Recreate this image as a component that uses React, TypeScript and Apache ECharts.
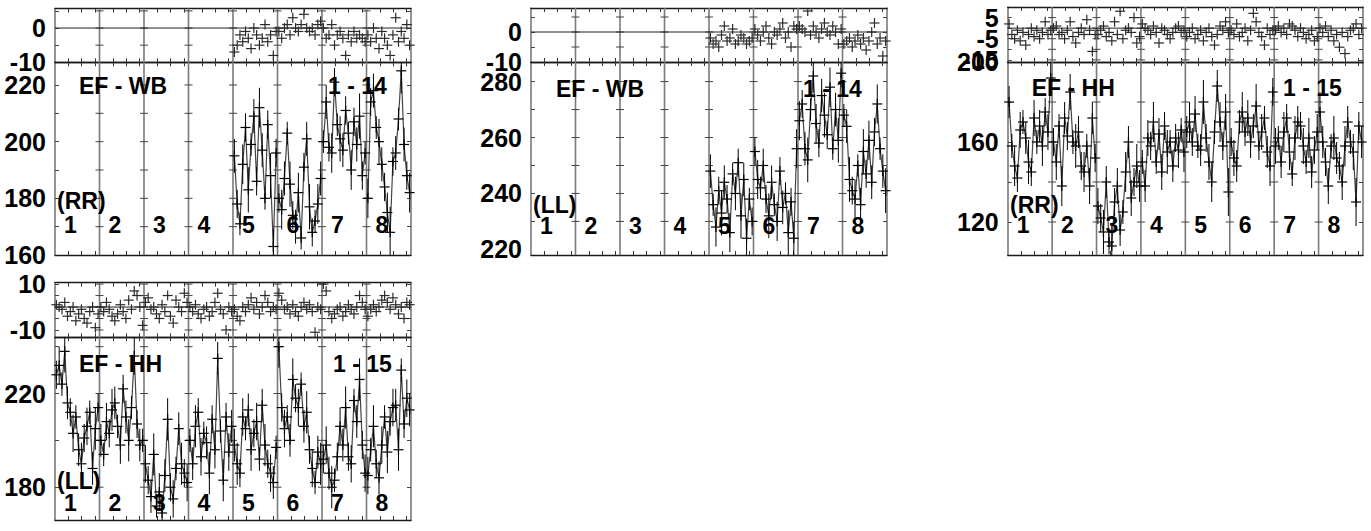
import { useEffect, useRef } from "react";
import * as echarts from "echarts";

// ---------------- data ----------------
const segmentLabels = ["1", "2", "3", "4", "5", "6", "7", "8"];
const segmentTickFractions = [0.3, 0.6, 0.9];

// EF - WB (RR), runs 1 - 14
const wbRrValues: (number[] | null)[] = [null, null, null, null,
  [195, 178, 171, 192, 205, 183, 199, 209, 186, 212, 197, 180, 206, 188, 163, 196],
  [180, 176, 187, 203, 185, 174, 170, 182, 166, 191, 201, 177, 168, 172, 178, 187],
  [200, 214, 198, 196, 221, 206, 201, 197, 211, 203, 190, 207, 199, 209, 188, 196],
  [180, 214, 218, 205, 200, 192, 184, 175, 168, 193, 196, 208, 225, 199, 188, 182]];
const wbRrErrors: (number[] | null)[] = [null, null, null, null,
  [6, 5, 4, 7, 5, 8, 4, 6, 5, 7, 6, 4, 5, 8, 6, 5],
  [5, 7, 6, 4, 8, 5, 6, 7, 4, 5, 6, 8, 5, 4, 7, 6],
  [4, 6, 5, 7, 5, 4, 8, 6, 5, 4, 7, 5, 6, 8, 5, 4],
  [7, 5, 6, 4, 8, 6, 5, 7, 9, 5, 6, 4, 8, 6, 5, 7]];
const wbRrResiduals: (number[] | null)[] = [null, null, null, null,
  [-7, -5, -2, -4, -1, -3, -6, 0, -2, -5, -3, 1, -4, -2, -8, -1],
  [-1, -3, 0, 1, -2, 3, 0, -1, 1, 4, 0, -1, 0, -2, 1, 2],
  [0, -3, -2, 1, -5, -2, -1, -3, -8, -2, -4, -1, -3, -2, -3, -4],
  [-2, -4, 0, -3, -6, -1, -3, -5, -8, -2, 3, -4, -1, -3, 1, -5]];
const wbRrTicks = [170, 180, 190, 200, 210, 220];
const wbRrTickLabels = [160, 180, 200, 220];
const wbRrResTicks = [-5, 0, 5];
const wbRrResTickLabels = [-10, 0];

// EF - WB (LL), runs 1 - 14
const wbLlValues: (number[] | null)[] = [null, null, null, null,
  [248, 236, 228, 241, 233, 244, 238, 226, 247, 240, 251, 232, 245, 224, 238, 230],
  [255, 245, 242, 250, 238, 232, 244, 236, 230, 248, 235, 240, 226, 237, 224, 256],
  [266, 272, 256, 252, 270, 282, 265, 258, 275, 268, 261, 278, 256, 270, 259, 283],
  [268, 264, 245, 241, 238, 250, 236, 255, 247, 259, 244, 262, 272, 256, 248, 241]];
const wbLlErrors: (number[] | null)[] = [null, null, null, null,
  [6, 4, 7, 5, 8, 6, 5, 7, 4, 6, 5, 8, 6, 7, 4, 5],
  [5, 7, 4, 6, 5, 8, 6, 4, 7, 5, 6, 4, 8, 5, 6, 7],
  [7, 5, 6, 8, 4, 6, 7, 5, 6, 8, 5, 7, 4, 6, 8, 5],
  [4, 6, 8, 5, 7, 4, 6, 8, 5, 7, 6, 5, 7, 4, 6, 8]];
const wbLlResiduals: (number[] | null)[] = [null, null, null, null,
  [-2, -4, -3, -5, -1, 2, -3, -2, 1, -4, -3, -1, -2, -4, -3, -2],
  [1, -1, -3, 0, 2, -2, -4, 0, -1, 1, 3, -2, 0, -5, 2, 1],
  [2, 1, 0, 7, -1, 2, 0, -2, 1, 3, 0, -1, 2, 0, -4, 1],
  [-4, -3, -2, -5, -3, -1, -4, -2, -6, -3, 0, 3, -4, -2, -8, -3]];
const wbLlTicks = [230, 240, 250, 260, 270, 280];
const wbLlTickLabels = [220, 240, 260, 280];
const wbLlResTicks = [-5, 0, 5];
const wbLlResTickLabels = [-10, 0];

// EF - HH (RR), runs 1 - 15
const hhRrValues: (number[] | null)[] = [
  [180, 158, 148, 142, 166, 170, 162, 150, 145, 172, 160, 168, 158, 175, 165, 192],
  [160, 150, 168, 138, 172, 163, 185, 160, 158, 165, 148, 145, 158, 138, 172, 152],
  [128, 122, 115, 140, 110, 108, 130, 138, 116, 125, 145, 160, 132, 140, 148, 138],
  [150, 138, 162, 158, 170, 150, 164, 145, 168, 155, 160, 148, 162, 156, 166, 155],
  [165, 170, 160, 174, 158, 156, 180, 162, 150, 140, 165, 188, 170, 158, 175, 135],
  [160, 152, 148, 170, 175, 165, 172, 160, 168, 178, 158, 165, 172, 155, 148, 185],
  [158, 162, 150, 165, 172, 155, 144, 162, 170, 168, 158, 150, 162, 145, 156, 165],
  [175, 160, 150, 138, 158, 162, 152, 148, 140, 158, 170, 160, 155, 130, 168, 160]];
const hhRrErrors: (number[] | null)[] = [
  [8, 6, 10, 7, 9, 6, 8, 11, 7, 9, 6, 8, 10, 7, 9, 8],
  [7, 9, 6, 10, 8, 7, 9, 6, 11, 8, 7, 10, 6, 9, 8, 7],
  [9, 7, 11, 8, 6, 10, 7, 9, 8, 6, 10, 8, 9, 7, 11, 8],
  [6, 8, 9, 7, 10, 6, 8, 9, 7, 11, 6, 8, 7, 9, 6, 10],
  [8, 10, 7, 9, 6, 8, 11, 7, 9, 10, 6, 8, 10, 7, 9, 12],
  [7, 9, 8, 6, 10, 7, 9, 8, 6, 11, 7, 9, 6, 8, 10, 7],
  [9, 6, 8, 10, 7, 9, 6, 11, 8, 7, 9, 6, 10, 8, 7, 9],
  [10, 8, 7, 9, 6, 11, 8, 7, 9, 10, 8, 6, 9, 12, 7, 8]];
const hhRrResiduals: (number[] | null)[] = [
  [2, -3, -5, -1, -6, -2, -8, -3, 0, -4, -1, -5, -2, 3, -3, -1],
  [0, 1, -3, -2, -5, -1, 3, -4, -7, -2, 0, -3, 4, -1, -11, -3],
  [-3, -1, 1, -4, -2, -6, 3, -3, 8, -5, -1, 0, -2, 5, -7, -4],
  [2, 0, -1, -3, 1, -2, -7, 0, -1, -3, -5, -2, 0, 1, -2, -1],
  [-4, -2, 0, -5, -3, -1, -6, -2, 0, -4, -8, -3, 1, -1, 3, -2],
  [-1, -3, 2, -4, -2, 0, -6, -1, 7, 3, -2, -4, -8, 0, -3, -1],
  [-1, 1, -2, 0, -3, 2, 1, -1, -4, 0, -2, -5, -3, -1, -6, -4],
  [0, -2, 1, -4, -1, -6, -3, -9, -2, -12, -4, -1, 0, 2, -3, 0]];
const hhRrTicks = [120, 140, 160, 180];
const hhRrTickLabels = [120, 160, 200];
const hhRrResTicks = [-15, -10, -5, 0, 5];
const hhRrResTickLabels = [-15, 5];
const hhRrResTickLabelsInner = [-5];

// EF - HH (LL), runs 1 - 15
const hhLlValues: (number[] | null)[] = [
  [228, 232, 224, 238, 216, 212, 203, 210, 196, 190, 201, 206, 212, 188, 205, 214],
  [200, 194, 208, 203, 213, 216, 206, 198, 222, 210, 200, 214, 236, 207, 198, 200],
  [190, 183, 176, 194, 172, 178, 169, 185, 209, 180, 175, 188, 205, 190, 186, 182],
  [200, 190, 206, 212, 193, 203, 199, 186, 209, 196, 235, 204, 183, 210, 195, 206],
  [198, 190, 186, 210, 205, 213, 196, 203, 208, 192, 215, 198, 190, 186, 182, 197],
  [240, 214, 205, 210, 200, 226, 218, 214, 224, 206, 212, 196, 188, 182, 195, 190],
  [192, 198, 186, 180, 183, 193, 206, 198, 214, 193, 190, 217, 208, 226, 198, 186],
  [185, 196, 206, 190, 184, 198, 210, 195, 208, 214, 215, 196, 230, 207, 218, 213]];
const hhLlErrors: (number[] | null)[] = [
  [6, 8, 5, 9, 7, 6, 8, 5, 7, 9, 6, 8, 5, 7, 9, 6],
  [7, 5, 8, 6, 9, 7, 5, 8, 6, 7, 9, 5, 8, 6, 7, 5],
  [8, 6, 7, 9, 5, 8, 6, 7, 9, 6, 8, 5, 7, 9, 6, 8],
  [5, 7, 9, 6, 8, 5, 7, 9, 6, 8, 7, 5, 9, 6, 8, 7],
  [7, 9, 6, 8, 5, 7, 9, 6, 8, 5, 7, 9, 6, 8, 7, 5],
  [9, 6, 8, 5, 7, 9, 6, 8, 5, 7, 9, 6, 8, 5, 7, 9],
  [6, 8, 7, 9, 5, 6, 8, 7, 9, 6, 8, 5, 7, 9, 6, 8],
  [8, 5, 9, 6, 7, 8, 5, 9, 6, 8, 7, 9, 5, 6, 8, 7]];
const hhLlResiduals: (number[] | null)[] = [
  [1, 0, -1, 2, -4, -2, 0, -6, -3, -1, -5, -7, -2, 0, -9, -3],
  [0, -2, 2, -1, -4, -6, -3, 1, -2, -5, 3, -1, 7, 5, 0, -8],
  [2, 4, -1, 0, -3, -5, 1, -2, 5, -4, -7, 3, 0, -2, 6, 2],
  [0, -2, 1, -3, -5, -1, 0, -4, -2, 2, 6, -1, -3, -10, 0, -2],
  [-1, -4, -6, 0, -2, 1, 4, -1, 2, -3, 0, 5, 2, -2, 0, -1],
  [6, 3, -1, 0, -3, 1, -2, -4, 0, 2, -1, 1, -2, -11, 0, -1],
  [10, 7, -2, -5, -3, -1, 0, -4, -2, 1, -1, -3, 0, 5, 2, -1],
  [-4, -1, 1, -2, 0, 3, 5, 2, -1, 4, 1, -3, 0, -5, 2, 1]];
const hhLlTicks = [180, 200, 220, 240];
const hhLlTickLabels = [180, 220];
const hhLlResTicks = [-10, -5, 0, 5, 10];
const hhLlResTickLabels = [-10, 10];

// ---------------- layout / styling ----------------
const FONT_FAMILY = '"Liberation Sans", Arial, Helvetica, sans-serif';
const FONT = `bold 23px ${FONT_FAMILY}`;

const panels = [
  {
    values: wbRrValues, errors: wbRrErrors, residuals: wbRrResiduals,
    ticks: wbRrTicks, labels: wbRrTickLabels, resTicks: wbRrResTicks, resLabels: wbRrResTickLabels, resLabels2: [] as number[],
    box: { left: 55, right: 411, top: 8.5, mid: 62.3, bottom: 255 },
    resRange: [-10, 5.7], mainRange: [160, 228],
    title: "EF - WB", run: "1 - 14", pol: "(RR)",
    txt: { titleX: 79, titleY: 86, runX: 328, polX: 57, polY: 201, numY: 225 },
  },
  {
    values: wbLlValues, errors: wbLlErrors, residuals: wbLlResiduals,
    ticks: wbLlTicks, labels: wbLlTickLabels, resTicks: wbLlResTicks, resLabels: wbLlResTickLabels, resLabels2: [] as number[],
    box: { left: 531, right: 887, top: 8, mid: 62, bottom: 255 },
    resRange: [-10, 8], mainRange: [218, 287],
    title: "EF - WB", run: "1 - 14", pol: "(LL)",
    txt: { titleX: 556, titleY: 89, runX: 803, polX: 533, polY: 205, numY: 226 },
  },
  {
    values: hhRrValues, errors: hhRrErrors, residuals: hhRrResiduals,
    ticks: hhRrTicks, labels: hhRrTickLabels, resTicks: hhRrResTicks, resLabels: hhRrResTickLabels, resLabels2: hhRrResTickLabelsInner,
    box: { left: 1007.7, right: 1363, top: 7, mid: 62, bottom: 255 },
    resRange: [-16, 10], mainRange: [103.5, 200],
    title: "EF - HH", run: "1 - 15", pol: "(RR)",
    txt: { titleX: 1031.7, titleY: 88, runX: 1283, polX: 1010, polY: 205, numY: 225 },
  },
  {
    values: hhLlValues, errors: hhLlErrors, residuals: hhLlResiduals,
    ticks: hhLlTicks, labels: hhLlTickLabels, resTicks: hhLlResTicks, resLabels: hhLlResTickLabels, resLabels2: [] as number[],
    box: { left: 55, right: 411, top: 282.7, mid: 337.3, bottom: 520 },
    resRange: [-13.2, 10.6], mainRange: [166, 244],
    title: "EF - HH", run: "1 - 15", pol: "(LL)",
    txt: { titleX: 79, titleY: 364, runX: 333, polX: 57, polY: 481, numY: 503 },
  },
];

const xTickValues: number[] = [];
for (let s = 0; s < 8; s++) for (const f of segmentTickFractions) xTickValues.push(s + f);

function frameItem(yTicks: number[], yMin: number) {
  return (params: any, api: any) => {
    const cs = params.coordSys;
    const xb = api.value(0);
    const px = api.coord([xb, yMin])[0];
    const children: any[] = [
      { type: "line", shape: { x1: px, y1: cs.y, x2: px, y2: cs.y + cs.height }, style: { stroke: "#7a7a7a", lineWidth: 1.6 } },
    ];
    for (const t of yTicks) {
      const py = api.coord([xb, t])[1];
      children.push({ type: "line", shape: { x1: px - 4, y1: py, x2: px + 4, y2: py }, style: { stroke: "#444", lineWidth: 1 } });
    }
    return { type: "group", children };
  };
}

function zeroItem(params: any, api: any) {
  const cs = params.coordSys;
  const py = api.coord([0, 0])[1];
  return { type: "line", shape: { x1: cs.x, y1: py, x2: cs.x + cs.width, y2: py }, style: { stroke: "#222", lineWidth: 1 } };
}

function pointItem(color: string) {
  return (params: any, api: any) => {
    const cs = params.coordSys;
    const x = api.value(0), y = api.value(1), e = api.value(2);
    const p = api.coord([x, y]);
    const clampY = (v: number) => Math.min(Math.max(v, cs.y), cs.y + cs.height);
    const children: any[] = [];
    if (e > 0) {
      const hi = clampY(api.coord([x, y + e])[1]);
      const lo = clampY(api.coord([x, y - e])[1]);
      children.push({ type: "line", shape: { x1: p[0], y1: hi, x2: p[0], y2: lo }, style: { stroke: "#000", lineWidth: 1 } });
    }
    const r = 5;
    children.push({ type: "line", shape: { x1: p[0] - r, y1: clampY(p[1]), x2: p[0] + r, y2: clampY(p[1]) }, style: { stroke: color, lineWidth: 1.2 } });
    children.push({ type: "line", shape: { x1: p[0], y1: clampY(p[1] - r), x2: p[0], y2: clampY(p[1] + r) }, style: { stroke: color, lineWidth: 1.2 } });
    return { type: "group", children };
  };
}

function labelStyle(values: number[]) {
  return {
    show: true, customValues: values, hideOverlap: false, showMinLabel: true, showMaxLabel: true,
    margin: 9, color: "#000", fontSize: 25, fontWeight: "bold", fontFamily: FONT_FAMILY,
  };
}

function buildOption() {
  const grids: any[] = [];
  const xAxes: any[] = [];
  const yAxes: any[] = [];
  const series: any[] = [];
  const graphics: any[] = [];

  panels.forEach((p) => {
    const width = p.box.right - p.box.left;
    const parts = [
      { kind: "res", top: p.box.top, bottom: p.box.mid, range: p.resRange, ticks: p.resTicks, labels: p.resLabels, labels2: p.resLabels2 },
      { kind: "main", top: p.box.mid, bottom: p.box.bottom, range: p.mainRange, ticks: p.ticks, labels: p.labels, labels2: [] as number[] },
    ];
    parts.forEach((part) => {
      const g = grids.length;
      grids.push({ left: p.box.left, top: part.top, width, height: part.bottom - part.top, outerBoundsMode: "none", containLabel: false });
      const xi = xAxes.length;
      for (const pos of ["bottom", "top"]) {
        xAxes.push({
          type: "value", gridIndex: g, position: pos, min: 0, max: 8,
          axisLine: { show: true, onZero: false, lineStyle: { color: "#1a1a1a", width: 1.3 } },
          axisTick: { show: true, inside: true, length: 4, customValues: xTickValues, lineStyle: { color: "#333", width: 1 } },
          axisLabel: { show: false }, splitLine: { show: false },
        });
      }
      const yi = yAxes.length;
      for (const pos of ["left", "right"]) {
        yAxes.push({
          type: "value", gridIndex: g, position: pos, min: part.range[0], max: part.range[1],
          axisLine: { show: true, onZero: false, lineStyle: { color: "#7a7a7a", width: 1.6 } },
          axisTick: { show: true, inside: true, length: 4, customValues: part.ticks, lineStyle: { color: "#444", width: 1 } },
          axisLabel: pos === "left" ? labelStyle(part.labels) : { show: false },
          splitLine: { show: false },
        });
      }
      if (part.labels2.length) {
        // second label layer so that closely stacked labels are all drawn
        yAxes.push({
          type: "value", gridIndex: g, position: "left", offset: 0, min: part.range[0], max: part.range[1],
          axisLine: { show: false }, axisTick: { show: false }, splitLine: { show: false },
          axisLabel: labelStyle(part.labels2),
        });
      }
      series.push({
        type: "custom", xAxisIndex: xi, yAxisIndex: yi, silent: true, z: 1,
        renderItem: frameItem(part.ticks, part.range[0]),
        encode: { x: 0, y: 1 },
        data: [1, 2, 3, 4, 5, 6, 7].map((b) => [b, part.range[0]]),
      });
      if (part.kind === "res") {
        series.push({
          type: "custom", xAxisIndex: xi, yAxisIndex: yi, silent: true, z: 1,
          renderItem: zeroItem, encode: { x: 0, y: 1 }, data: [[0, 0]],
        });
      }
      const src = part.kind === "res" ? p.residuals : p.values;
      src.forEach((seg, s) => {
        if (!seg) return;
        const n = seg.length;
        const errs = part.kind === "main" ? (p.errors[s] as number[]) : null;
        const pts = seg.map((v, i) => [s + (i + 0.5) / n, v, errs ? errs[i] : 0]);
        if (part.kind === "main") {
          series.push({
            type: "line", xAxisIndex: xi, yAxisIndex: yi, silent: true, z: 2,
            symbol: "none", lineStyle: { color: "#444", width: 1.2 },
            data: pts.map((q) => [q[0], q[1]]),
          });
        }
        series.push({
          type: "custom", xAxisIndex: xi, yAxisIndex: yi, silent: true, z: 3,
          renderItem: pointItem(part.kind === "res" ? "#2a2a2a" : "#000"),
          encode: { x: 0, y: 1 },
          data: pts,
        });
      });
    });

    const segW = width / 8;
    const t = p.txt;
    const addText = (text: string, x: number, y: number) =>
      graphics.push({ type: "text", x, y, z: 100, silent: true, style: { text, font: FONT, fill: "#000", textAlign: "left", textVerticalAlign: "middle" } });
    addText(p.title, t.titleX, t.titleY);
    addText(p.run, t.runX, t.titleY);
    addText(p.pol, t.polX, t.polY);
    segmentLabels.forEach((lab, s) => addText(lab, p.box.left + segW * s + 9, t.numY));
  });

  return {
    animation: false,
    backgroundColor: "#fff",
    grid: grids,
    xAxis: xAxes,
    yAxis: yAxes,
    series,
    graphic: graphics,
  };
}

export default function App() {
  const ref = useRef<HTMLDivElement>(null);
  useEffect(() => {
    if (!ref.current) return;
    const chart = echarts.init(ref.current, undefined, { renderer: "svg" });
    chart.setOption(buildOption() as any);
    return () => chart.dispose();
  }, []);
  return <div ref={ref} style={{ position: "fixed", left: 0, top: 0, width: 1371, height: 531, background: "#fff" }} />;
}
